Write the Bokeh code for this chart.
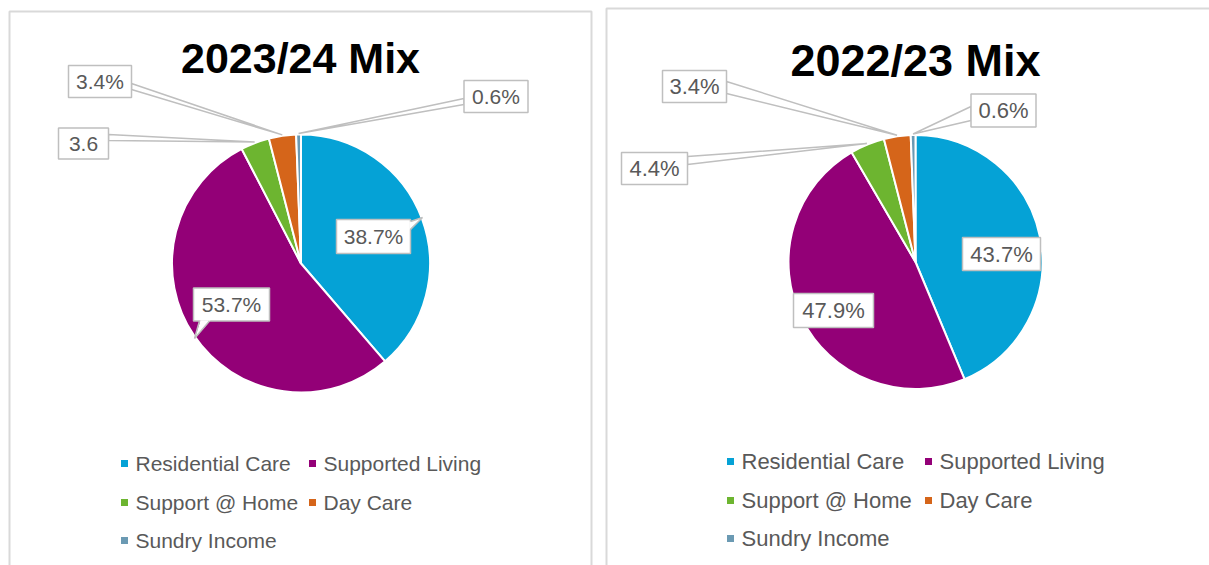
import math
from bokeh.plotting import figure
from bokeh.models import Range1d, ColumnDataSource
from bokeh.core.properties import value
from bokeh.embed import file_html
from bokeh.resources import INLINE

# ---------------- data ----------------
categories = ["Residential Care", "Supported Living", "Support @ Home", "Day Care", "Sundry Income"]
colors = ["#05A2D6", "#930077", "#6DB530", "#D5651A", "#6B9AB3"]
titles = ["2023/24 Mix", "2022/23 Mix"]
values_2324 = [38.7, 53.7, 3.6, 3.4, 0.6]
values_2223 = [43.7, 47.9, 4.4, 3.4, 0.6]
labels_2324 = ["38.7%", "53.7%", "3.6", "3.4%", "0.6%"]
labels_2223 = ["43.7%", "47.9%", "4.4%", "3.4%", "0.6%"]

# ---------------- layout (screen pixels, y downwards) ----------------
W, H = 1209, 565
FONT = "Liberation Sans"
TXT = "#595959"
EDGE = "#BFBFBF"

panels = [
    dict(values=values_2324, labels=labels_2324, title=titles[0],
         cx=300.5, cy=263, r=129, tx=300, ty=57, tsize="43px", fsize="21px",
         boxes=[(373, 236, 74, 34), (231, 304, 76, 33), (83, 143, 50, 31),
                (99.5, 81, 63, 32), (495.5, 96, 64, 32)],
         leaders={2: (108, 134, 140), 3: (131, 83, 89), 4: (463.5, 98, 104)},
         pointers={0: [(410, 221), (410, 229), (422, 217)],
                   1: [(199, 320.5), (209, 320.5), (194, 338)]},
         lx=[124, 312], ly=[463, 502, 540],
         border=[(9, 566), (9, 11), (591, 11), (591, 566)]),
    dict(values=values_2223, labels=labels_2223, title=titles[1],
         cx=915, cy=261.5, r=127, tx=915, ty=60, tsize="45px", fsize="22px",
         boxes=[(1001, 253.5, 78, 33), (833, 310, 80, 34), (654, 168, 66, 32),
                (694, 86, 64, 32), (1003, 110, 65, 33)],
         leaders={2: (687, 156, 164), 3: (726, 81, 93), 4: (970.5, 106, 120)},
         pointers={},
         lx=[730, 928], ly=[461, 500, 538],
         border=[(606, 566), (606, 8), (1210, 8)]),
]


def Y(v):
    return H - v


p = figure(width=W, height=H, x_range=Range1d(0, W), y_range=Range1d(0, H),
           output_backend="svg", toolbar_location=None, min_border=0,
           x_axis_location=None, y_axis_location=None)
p.grid.visible = False
p.outline_line_color = None
p.background_fill_color = "white"
p.border_fill_color = "white"

for pn in panels:
    # panel border
    p.line([a for a, b in pn["border"]], [Y(b) for a, b in pn["border"]],
           line_color="#D9D9D9", line_width=2)

    vals = pn["values"]
    total = sum(vals)
    cum = [0.0]
    for v in vals:
        cum.append(cum[-1] + v / total)
    starts = [math.pi / 2 - 2 * math.pi * c for c in cum[:-1]]
    ends = [math.pi / 2 - 2 * math.pi * c for c in cum[1:]]
    cx, cy, r = pn["cx"], pn["cy"], pn["r"]

    src = ColumnDataSource(dict(x=[cx] * len(vals), y=[Y(cy)] * len(vals),
                                start=starts, end=ends, color=colors,
                                cat=categories, val=vals))
    p.wedge(x="x", y="y", radius=r, start_angle="start", end_angle="end",
            direction="clock", fill_color="color", line_color="white",
            line_width=2, source=src)

    # leader lines for small slices
    for idx, (bx, y1, y2) in pn["leaders"].items():
        mid = (cum[idx] + cum[idx + 1]) / 2
        th = 2 * math.pi * mid
        tipx = cx + (r + 1) * math.sin(th)
        tipy = cy - (r + 1) * math.cos(th)
        p.patch([bx, bx, tipx], [Y(y1), Y(y2), Y(tipy)], fill_color="white",
                line_color=EDGE, line_width=1.5)

    # label boxes
    bxs = [b[0] for b in pn["boxes"]]
    bys = [Y(b[1]) for b in pn["boxes"]]
    bws = [b[2] for b in pn["boxes"]]
    bhs = [b[3] for b in pn["boxes"]]
    p.rect(x=bxs, y=bys, width=bws, height=bhs, fill_color="white",
           line_color=EDGE, line_width=1.5)

    # callout pointers
    for idx, pts in pn["pointers"].items():
        (ax, ay), (bx2, by2), (tx, ty) = pts
        bcx, bcy = pn["boxes"][idx][0], pn["boxes"][idx][1]
        # nudge base points slightly inside the box to hide the box edge
        ddx = (bcx - (ax + bx2) / 2)
        ddy = (bcy - (ay + by2) / 2)
        nrm = math.hypot(ddx, ddy)
        ix, iy = 1.2 * ddx / nrm, 1.2 * ddy / nrm
        p.patch([ax + ix, bx2 + ix, tx], [Y(ay + iy), Y(by2 + iy), Y(ty)],
                fill_color="white", line_color=None)
        p.line([ax, tx, bx2], [Y(ay), Y(ty), Y(by2)], line_color=EDGE,
               line_width=1.5)

    p.text(x=bxs, y=bys, text=pn["labels"], text_align="center",
           text_baseline="middle", text_color=TXT,
           text_font=value(FONT), text_font_size=value(pn["fsize"]))

    # title
    p.text(x=[pn["tx"]], y=[Y(pn["ty"])], text=[pn["title"]],
           text_align="center", text_baseline="middle", text_color="black",
           text_font=value(FONT), text_font_style="bold",
           text_font_size=value(pn["tsize"]))

    # legend
    mx = [pn["lx"][i % 2] for i in range(len(categories))]
    my = [Y(pn["ly"][i // 2]) for i in range(len(categories))]
    p.rect(x=mx, y=my, width=7, height=7, fill_color=colors, line_color=None)
    p.text(x=[m + 11 for m in mx], y=my, text=categories, text_align="left",
           text_baseline="middle", text_color=TXT,
           text_font=value(FONT), text_font_size=value(pn["fsize"]))

open("out.html", "w").write(file_html(p, INLINE))
